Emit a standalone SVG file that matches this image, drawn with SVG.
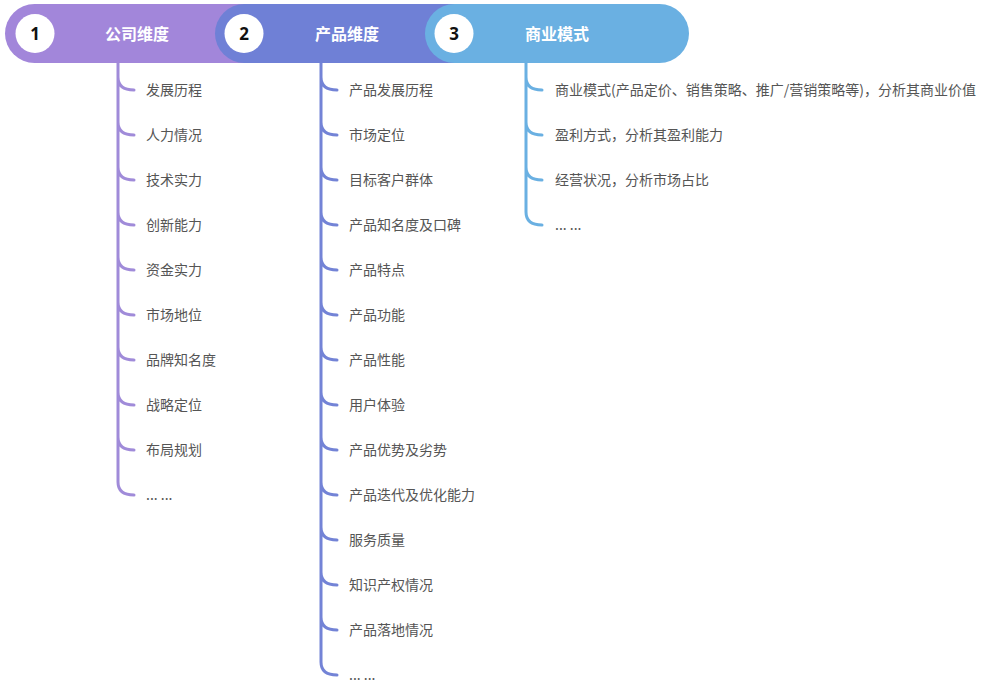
<svg xmlns="http://www.w3.org/2000/svg" width="984" height="694" viewBox="0 0 984 694">
<style>
.title{font-family:"Noto Sans CJK SC","Noto Sans",sans-serif;font-size:16px;font-weight:bold;fill:#fff;text-anchor:middle;dominant-baseline:central}
.num{font-family:"Noto Sans","Liberation Sans",sans-serif;font-size:17px;font-weight:bold;fill:#111;text-anchor:middle;dominant-baseline:central}
.item{font-family:"Noto Sans CJK SC","Noto Sans",sans-serif;font-size:14px;fill:#555;dominant-baseline:central}
.l1{fill:none;stroke:#a08bd9;stroke-width:3;stroke-linecap:round}
.l2{fill:none;stroke:#7383d6;stroke-width:3;stroke-linecap:round}
.l3{fill:none;stroke:#6ab0e2;stroke-width:3;stroke-linecap:round}
</style>
<g id="connectors">
<path class="l1" d="M118,63 V482 Q118,495 134,495 M118,77 Q118,90 134,90 M118,122 Q118,135 134,135 M118,167 Q118,180 134,180 M118,212 Q118,225 134,225 M118,257 Q118,270 134,270 M118,302 Q118,315 134,315 M118,347 Q118,360 134,360 M118,392 Q118,405 134,405 M118,437 Q118,450 134,450"/>
<path class="l2" d="M321,63 V662 Q321,675 337,675 M321,77 Q321,90 337,90 M321,122 Q321,135 337,135 M321,167 Q321,180 337,180 M321,212 Q321,225 337,225 M321,257 Q321,270 337,270 M321,302 Q321,315 337,315 M321,347 Q321,360 337,360 M321,392 Q321,405 337,405 M321,437 Q321,450 337,450 M321,482 Q321,495 337,495 M321,527 Q321,540 337,540 M321,572 Q321,585 337,585 M321,617 Q321,630 337,630"/>
<path class="l3" d="M526,63 V212 Q526,225 542,225 M526,77 Q526,90 542,90 M526,122 Q526,135 542,135 M526,167 Q526,180 542,180"/>
</g>
<g id="header1">
<rect x="5" y="4" width="300" height="59" rx="29.5" fill="#a286da"/>
</g>
<g id="header2">
<rect x="215" y="4" width="300" height="59" rx="29.5" fill="#6f80d6"/>
</g>
<g id="header3">
<rect x="425" y="4" width="264" height="59" rx="29.5" fill="#6ab0e2"/>
</g>
<g id="header1-label">
<circle cx="35" cy="33.5" r="19.5" fill="#fff"/>
<text class="num" x="35" y="33.5">1</text>
<text class="title" x="137" y="33">公司维度</text>
</g>
<g id="header2-label">
<circle cx="244" cy="33.5" r="19.5" fill="#fff"/>
<text class="num" x="244" y="33.5">2</text>
<text class="title" x="347" y="33">产品维度</text>
</g>
<g id="header3-label">
<circle cx="454" cy="33.5" r="19.5" fill="#fff"/>
<text class="num" x="454" y="33.5">3</text>
<text class="title" x="557" y="33">商业模式</text>
</g>
<g id="company-items">
<text class="item" x="146" y="89">发展历程</text>
<text class="item" x="146" y="134">人力情况</text>
<text class="item" x="146" y="179">技术实力</text>
<text class="item" x="146" y="224">创新能力</text>
<text class="item" x="146" y="269">资金实力</text>
<text class="item" x="146" y="314">市场地位</text>
<text class="item" x="146" y="359">品牌知名度</text>
<text class="item" x="146" y="404">战略定位</text>
<text class="item" x="146" y="449">布局规划</text>
<text class="item" x="146" y="494">... ...</text>
</g>
<g id="product-items">
<text class="item" x="349" y="89">产品发展历程</text>
<text class="item" x="349" y="134">市场定位</text>
<text class="item" x="349" y="179">目标客户群体</text>
<text class="item" x="349" y="224">产品知名度及口碑</text>
<text class="item" x="349" y="269">产品特点</text>
<text class="item" x="349" y="314">产品功能</text>
<text class="item" x="349" y="359">产品性能</text>
<text class="item" x="349" y="404">用户体验</text>
<text class="item" x="349" y="449">产品优势及劣势</text>
<text class="item" x="349" y="494">产品迭代及优化能力</text>
<text class="item" x="349" y="539">服务质量</text>
<text class="item" x="349" y="584">知识产权情况</text>
<text class="item" x="349" y="629">产品落地情况</text>
<text class="item" x="349" y="674">... ...</text>
</g>
<g id="business-items">
<text class="item" x="555" y="89">商业模式(产品定价、销售策略、推广/营销策略等)，分析其商业价值</text>
<text class="item" x="555" y="134">盈利方式，分析其盈利能力</text>
<text class="item" x="555" y="179">经营状况，分析市场占比</text>
<text class="item" x="555" y="224">... ...</text>
</g>
</svg>
